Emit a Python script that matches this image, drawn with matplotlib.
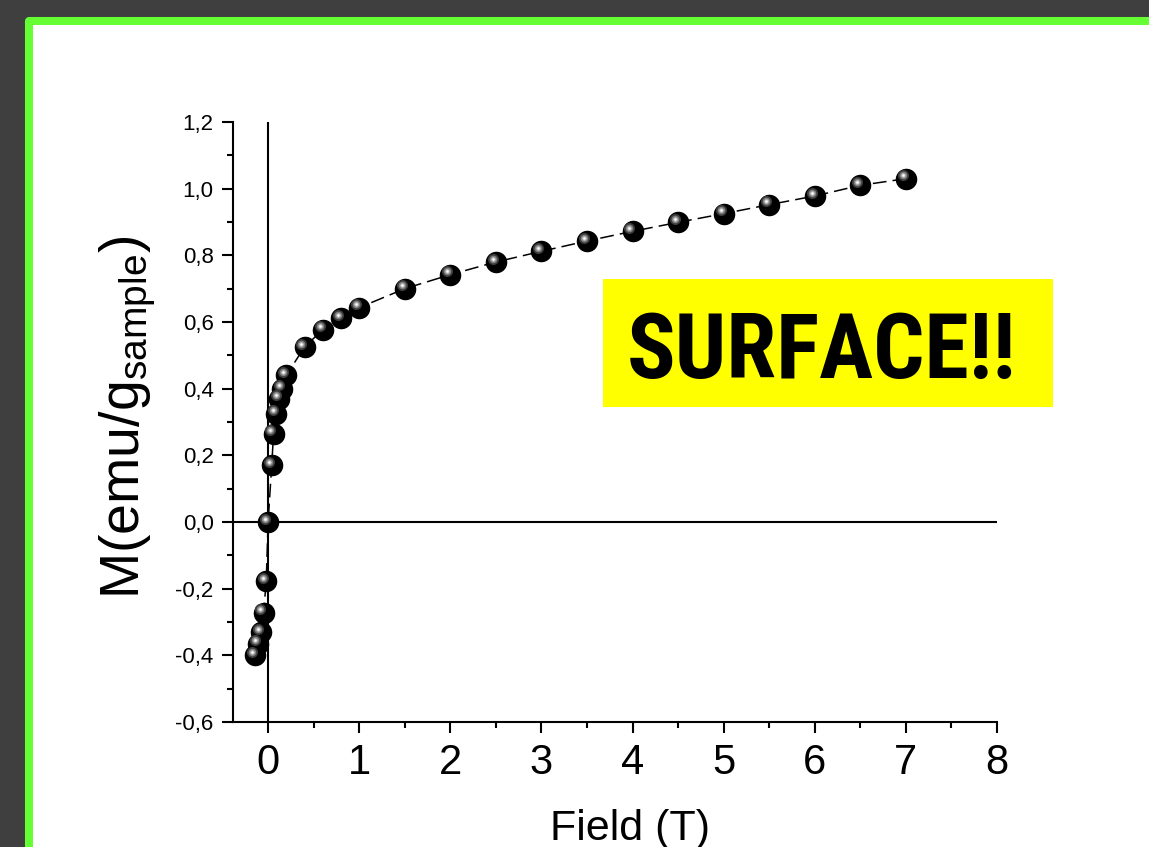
import matplotlib
matplotlib.use("Agg")
import matplotlib.pyplot as plt
from matplotlib import font_manager
from matplotlib.patches import Rectangle
from matplotlib.ticker import MultipleLocator, FuncFormatter
from matplotlib.transforms import offset_copy

plt.rcParams["font.family"] = ["Liberation Sans", "DejaVu Sans"]
plt.rcParams["mathtext.default"] = "regular"

campo = [-0.14, -0.11, -0.08, -0.05, -0.02, 0.0, 0.04, 0.06, 0.09, 0.12,
         0.15, 0.2, 0.4, 0.6, 0.8, 1.0, 1.5, 2.0, 2.5, 3.0, 3.5, 4.0, 4.5,
         5.0, 5.5, 6.0, 6.5, 7.0]
magnetizacion = [-0.40, -0.365, -0.33, -0.272, -0.178, 0.0, 0.17, 0.265,
                 0.325, 0.37, 0.40, 0.44, 0.525, 0.577, 0.612, 0.643, 0.70,
                 0.742, 0.78, 0.812, 0.843, 0.872, 0.899, 0.925, 0.952,
                 0.978, 1.01, 1.03]

W, H = 1149, 847
fig = plt.figure(figsize=(W / 100, H / 100), dpi=100, facecolor="#3f3f3f")

# Marco verde con fondo blanco (por debajo de los ejes)
marco = Rectangle((29 / W, -0.05), 1.2, (H - 21) / H + 0.05,
                  transform=fig.transFigure, facecolor="white",
                  edgecolor="#66ff33", linewidth=5.8, joinstyle="round",
                  zorder=-1)
fig.patches.append(marco)

ax = fig.add_axes([233 / W, 125 / H, (997 - 233) / W, (722 - 122) / H])
ax.set_facecolor("none")

ax.axhline(0, color="black", lw=1.5, zorder=1)
ax.axvline(0, color="black", lw=1.5, zorder=1)

ax.plot(campo, magnetizacion, color="black", lw=1.1, ls=(0, (9, 4)), zorder=2)

# Esferas sombreadas
ax.plot(campo, magnetizacion, "o", ms=14.5, color="black", mec="black", zorder=3)
tr1 = offset_copy(ax.transData, fig=fig, x=-2.2, y=2.4, units="points")
ax.plot(campo, magnetizacion, "o", ms=8, color="#3c3c3c", mec="none",
        transform=tr1, zorder=4)
ax.plot(campo, magnetizacion, "o", ms=5.5, color="#808080", mec="none",
        transform=tr1, zorder=5)
ax.plot(campo, magnetizacion, "o", ms=3.2, color="#c8c8c8", mec="none",
        transform=tr1, zorder=6)
ax.plot(campo, magnetizacion, "o", ms=1.6, color="white", mec="none",
        transform=tr1, zorder=7)

ax.set_xlim(-0.385, 8)
ax.set_ylim(-0.6, 1.2)

for lado in ["top", "right"]:
    ax.spines[lado].set_visible(False)
for lado in ["left", "bottom"]:
    ax.spines[lado].set_linewidth(1.5)

ax.xaxis.set_major_locator(MultipleLocator(1))
ax.xaxis.set_minor_locator(MultipleLocator(0.5))
ax.yaxis.set_major_locator(MultipleLocator(0.2))
ax.yaxis.set_minor_locator(MultipleLocator(0.1))
ax.yaxis.set_major_formatter(FuncFormatter(lambda v, p: f"{v:.1f}".replace(".", ",")))

ax.tick_params(which="major", direction="out", length=8, width=1.5)
ax.tick_params(which="minor", direction="out", length=4.5, width=1.5)
ax.tick_params(axis="y", labelsize=16, pad=6)
ax.tick_params(axis="x", labelsize=30, pad=7)

ax.set_xlabel("Field (T)", fontsize=31)
ax.xaxis.set_label_coords(0.52, -0.145)
ax.set_ylabel("M(emu/g$_{sample}$)", fontsize=40)
ax.yaxis.set_label_coords(-0.098, 0.507)

# Cartel amarillo: fuente estrecha si existe
nombres = {f.name for f in font_manager.fontManager.ttflist}
fuente, tam = "Liberation Sans", 55
for cand in ["Liberation Sans Narrow", "Roboto Condensed", "Open Sans Condensed",
             "Noto Sans Condensed", "DejaVu Sans Condensed"]:
    if cand in nombres:
        fuente, tam = cand, 65
        break

fig.patches.append(Rectangle((603 / W, (H - 407) / H), 450 / W, 128 / H,
                             transform=fig.transFigure, facecolor="#ffff00",
                             edgecolor="none", zorder=2))
fig.text(822 / W, (H - 353) / H, "SURFACE!!", fontsize=tam, fontweight="bold",
         family=[fuente, "Liberation Sans"],
         ha="center", va="center", zorder=3)

fig.savefig("out.png", dpi=100, facecolor=fig.get_facecolor())
